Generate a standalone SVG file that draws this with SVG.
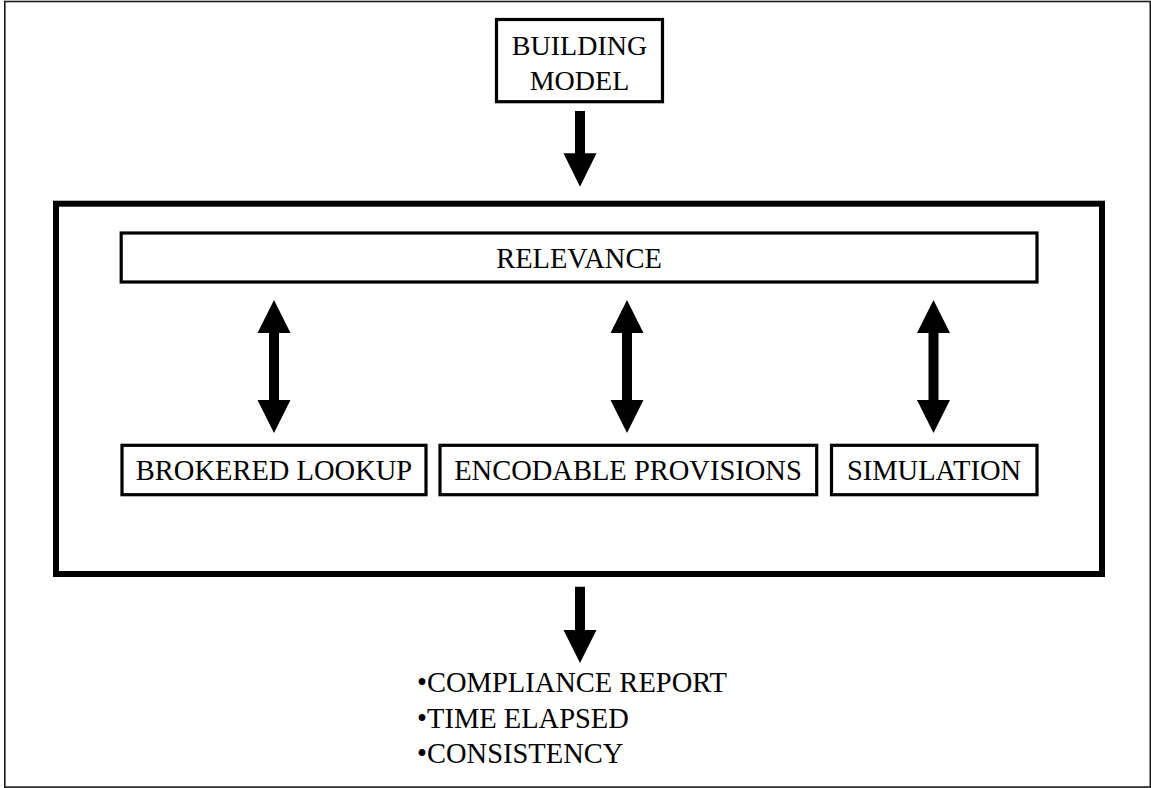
<svg xmlns="http://www.w3.org/2000/svg" width="1151" height="788" viewBox="0 0 1151 788">
<style>
  .box { fill: #fff; stroke: #000; stroke-width: 3.2; }
  .frame { fill: none; stroke: #000; stroke-width: 6; }
  .border { fill: none; stroke: #1a1a1a; stroke-width: 1.6; }
  .arrow { fill: #000; stroke: none; }
  text { font-family: "Liberation Serif", "Times New Roman", serif; font-size: 28.5px; fill: #000; }
  .c { text-anchor: middle; }
</style>
<rect width="1151" height="788" fill="#fff"/>
<rect class="border" x="4.8" y="1.5" width="1145.5" height="785.6"/>
<g id="main-frame">
  <rect class="frame" x="56" y="203.7" width="1046" height="370.3"/>
</g>
<g id="building-model">
  <rect class="box" x="496.5" y="19.5" width="166" height="82.2"/>
  <text class="c" x="579.5" y="55" style="font-size:28px">BUILDING</text>
  <text class="c" x="579.5" y="90" style="font-size:28px">MODEL</text>
</g>
<g id="relevance">
  <rect class="box" x="121.2" y="233" width="915.8" height="49"/>
  <text class="c" x="579" y="268">RELEVANCE</text>
</g>
<g id="brokered-lookup">
  <rect class="box" x="122" y="445.3" width="304" height="49.4"/>
  <text class="c" x="274" y="480">BROKERED LOOKUP</text>
</g>
<g id="encodable-provisions">
  <rect class="box" x="440" y="445.3" width="376.7" height="49.4"/>
  <text class="c" x="628" y="480">ENCODABLE PROVISIONS</text>
</g>
<g id="simulation">
  <rect class="box" x="831.5" y="445.3" width="205.5" height="49.4"/>
  <text class="c" x="934" y="480">SIMULATION</text>
</g>
<g id="outputs">
  <text x="417" y="692.3">•COMPLIANCE REPORT</text>
  <text x="417" y="728">•TIME ELAPSED</text>
  <text x="417" y="762.7">•CONSISTENCY</text>
</g>
<g id="connectors">
  <polygon class="arrow" points="575,111 585,111 585,153.3 596.5,153.3 580,186.8 563.5,153.3 575,153.3"/>
  <polygon class="arrow" points="575,586.7 585,586.7 585,630 596.5,630 580,663 563.5,630 575,630"/>
  <polygon class="arrow" points="274,300 290.5,333 279,333 279,400 290.5,400 274,433 257.5,400 269,400 269,333 257.5,333"/>
  <polygon class="arrow" points="627,300 643.5,333 632,333 632,400 643.5,400 627,433 610.5,400 622,400 622,333 610.5,333"/>
  <polygon class="arrow" points="933.5,300 950,333 938.5,333 938.5,400 950,400 933.5,433 917,400 928.5,400 928.5,333 917,333"/>
</g>
</svg>
